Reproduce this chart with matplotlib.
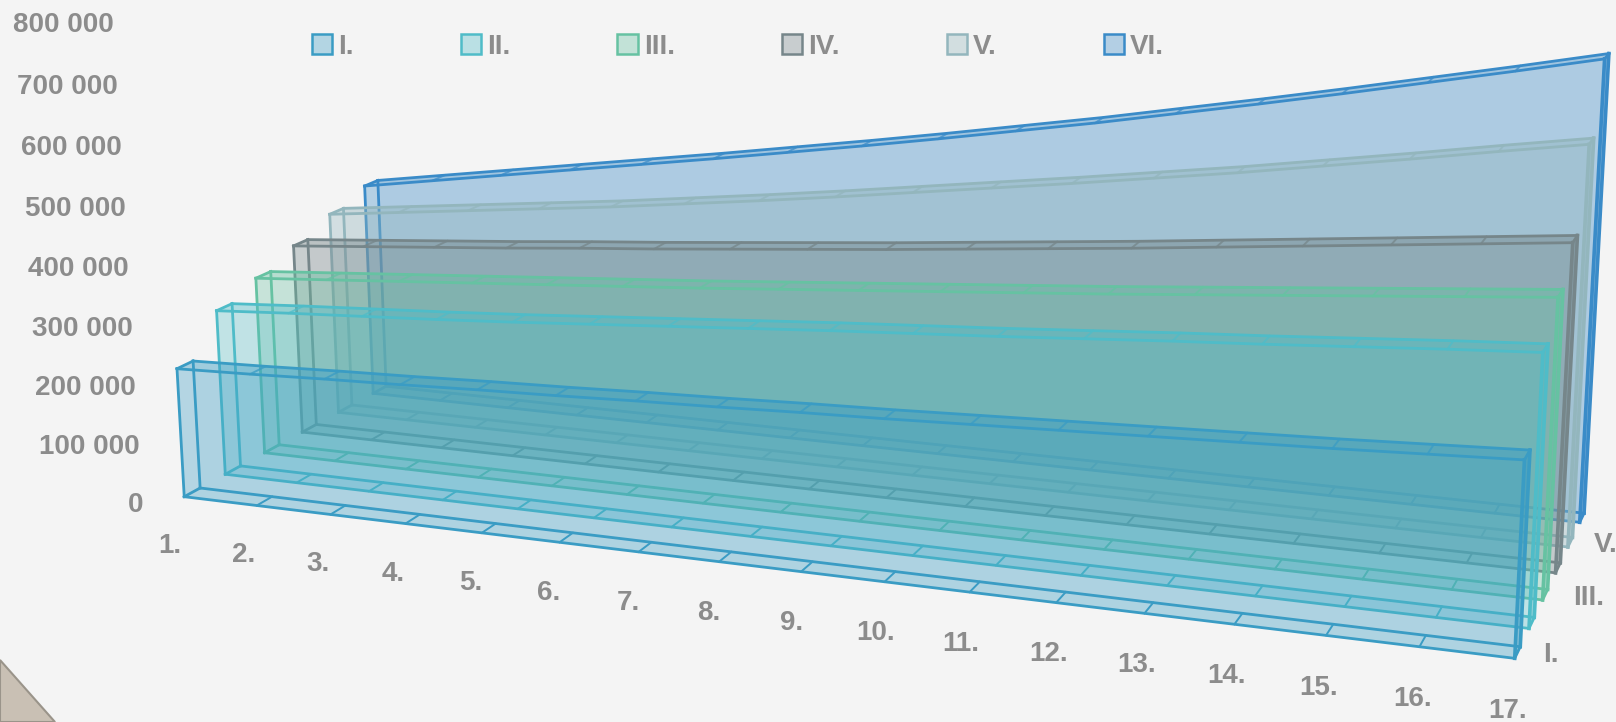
import numpy as np
import matplotlib
matplotlib.use('Agg')
import matplotlib.pyplot as plt
from matplotlib.colors import to_rgba
from matplotlib.patches import Patch, Polygon
from mpl_toolkits.mplot3d import proj3d
from mpl_toolkits.mplot3d.art3d import Poly3DCollection

categories = ['%d.' % i for i in range(1, 18)]
series_names = ['I.', 'II.', 'III.', 'IV.', 'V.', 'VI.']
value_ticks = [0, 100000, 200000, 300000, 400000, 500000, 600000, 700000, 800000]
value_labels = ['0', '100 000', '200 000', '300 000', '400 000', '500 000', '600 000', '700 000', '800 000']
depth_labels = {0: 'I.', 2: 'III.', 4: 'V.'}

s1 = [220, 224, 229, 233, 238, 242, 247, 251, 256, 260, 265, 270, 275, 280, 285, 291, 297]
s2 = [286, 294, 301, 308, 316, 325, 334, 343, 352, 360, 368, 377, 386, 394, 403, 412, 420]
s3 = [311, 320, 329, 338, 347, 356, 365, 375, 385, 395, 405, 415, 426, 437, 448, 459, 470]
s4 = [338, 348, 358, 368, 379, 389, 400, 411, 422, 434, 446, 458, 471, 484, 497, 510, 523]
s5 = [366, 380, 394, 408, 422, 438, 454, 471, 489, 507, 525, 544, 563, 584, 605, 627, 648]
s6 = [390, 410, 430, 450, 470, 490, 511, 532, 554, 577, 600, 625, 650, 676, 703, 730, 758]
series = [np.array(s) * 1000 for s in (s1, s2, s3, s4, s5, s6)]

colors = ['#3a9cc4', '#4fbcc8', '#66c2a2', '#76868a', '#93b6bd', '#3a8bc8']
face_alpha = [0.21, 0.17, 0.18, 0.21, 0.21, 0.21]
text_color = '#8c8c8c'
W, H = 1616, 722
band = 0.382  # depth of one series, the rest is the gap

plt.rcParams['font.family'] = ['Liberation Sans', 'DejaVu Sans']
fig = plt.figure(figsize=(W / 100, H / 100), dpi=100, facecolor='#f4f4f4')

# the 3d box is square, so it hangs out over the figure
S = 1616
cx, cy = 864.27, 284.53
ax = fig.add_axes([(cx - S / 2) / W, (H - cy - S / 2) / H, S / W, S / H], projection='3d')
ax.set_facecolor('none')
ax.set_autoscale_on(False)
ax.computed_zorder = False
ax.set_xlim3d(0, 16)
ax.set_ylim3d(0, 6)
ax.set_zlim3d(0, 800000)
ax.view_init(elev=14.043, azim=-70.089, roll=0.066)
ax.set_proj_type('persp', focal_length=0.36947)
ax.set_box_aspect((4, 1.41156, 1.46087), zoom=0.9104)
ax.set_axis_off()

x = np.arange(len(categories))
for i in range(5, -1, -1):
    v = series[i]
    c = colors[i]
    a = face_alpha[i]
    y0, y1 = i, i + band
    z = 10 * (6 - i)

    def face(pts, alpha, order):
        ax.add_collection3d(Poly3DCollection([pts], facecolors=[to_rgba(c, alpha)], edgecolors='none', zorder=z + order), autolim=False)

    back = [(p, y1, q) for p, q in zip(x, v)] + [(x[-1], y1, 0), (0, y1, 0)]
    front = [(p, y0, q) for p, q in zip(x, v)] + [(x[-1], y0, 0), (0, y0, 0)]
    top = [(p, y1, q) for p, q in zip(x, v)] + [(p, y0, q) for p, q in zip(x[::-1], v[::-1])]
    face(back, a, 0)
    face([(0, y0, 0), (x[-1], y0, 0), (x[-1], y1, 0), (0, y1, 0)], 0.2, 1)
    face([(0, y0, 0), (0, y1, 0), (0, y1, v[0]), (0, y0, v[0])], 0.16, 2)
    face([(x[-1], y0, 0), (x[-1], y1, 0), (x[-1], y1, v[-1]), (x[-1], y0, v[-1])], 0.5, 2)
    face(top, 0.3, 5)
    face(front, a, 6)

    # outline of the solid
    lw = 2.0
    for yy in (y1, y0):
        o = 3 if yy == y1 else 7
        ax.plot(x, [yy] * len(x), v, color=c, lw=lw, zorder=z + o)
        ax.plot(x, [yy] * len(x), 0 * v, color=c, lw=lw, zorder=z + o)
        ax.plot([0, 0], [yy, yy], [0, v[0]], color=c, lw=lw, zorder=z + o)
        ax.plot([x[-1], x[-1]], [yy, yy], [0, v[-1]], color=c, lw=lw + 0.6, zorder=z + o)
    for k in (0, x[-1]):
        ax.plot([k, k], [y0, y1], [0, 0], color=c, lw=lw, zorder=z + 4)
        ax.plot([k, k], [y0, y1], [v[k], v[k]], color=c, lw=lw, zorder=z + 4)
    # dividers on the floor and on the top of the band
    for k in x[1:-1]:
        ax.plot([k, k], [y0, y1], [0, 0], color=c, lw=1.4, zorder=z + 4)
        ax.plot([k, k], [y0, y1], [v[k], v[k]], color=c, lw=1.4, alpha=0.75, zorder=z + 6)


def label3d(px, py, pz, s, ha='center'):
    # upright text at a spot of the 3d box
    u, t, _ = proj3d.proj_transform(px, py, pz, ax.get_proj())
    ax.text2D(u, t, s, transform=ax.transData, ha=ha, va='center', color=text_color,
              fontsize=20, fontweight='bold', zorder=200)


for val, lab in zip(value_ticks, value_labels):
    label3d(-0.37, -0.35, val - 6000, lab, ha='right')
for k, lab in enumerate(categories):
    label3d(k + 0.83 - 0.041 * k, -1.74 + 0.010 * k, 0, lab)
for i, off in zip(depth_labels, (16.35, 16.47, 16.4)):
    label3d(off, i + band / 2, 2000, depth_labels[i])

handles = [Patch(facecolor=to_rgba(c, 0.35), edgecolor=c, linewidth=1.8) for c in colors]
leg = ax.legend(handles, series_names, ncols=6, loc='upper left', bbox_to_anchor=(312 / W, 1 - 34 / H),
                bbox_transform=fig.transFigure, frameon=False, borderpad=0, borderaxespad=0,
                handlelength=0.73, handleheight=0.73, handletextpad=0.22, columnspacing=3.85,
                prop={'family': 'Liberation Sans', 'size': 20, 'weight': 'bold'}, labelcolor=text_color)

# corner of the slide behind the chart
fig.add_artist(Polygon([(0, 1 - 660 / H), (55 / W, 0), (0, 0)], closed=True, transform=fig.transFigure,
                       facecolor='#c9c0b4', edgecolor='#9a948a', linewidth=1.5))

fig.savefig('out.png', dpi=100)
